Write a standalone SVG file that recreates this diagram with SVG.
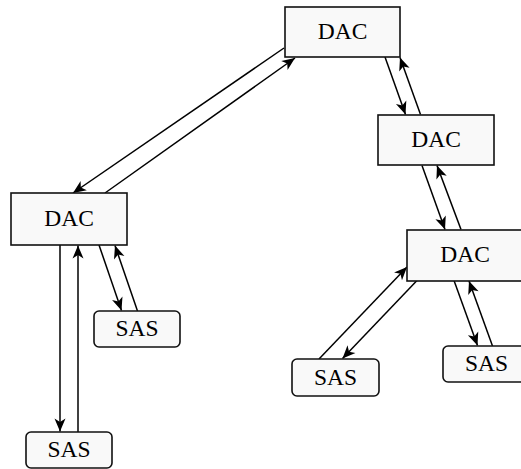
<svg xmlns="http://www.w3.org/2000/svg" width="521" height="469" viewBox="0 0 521 469">
<style>
.box{fill:#f9f9f9;stroke:#111;stroke-width:1.6}
.lbl{font-family:"Liberation Serif",Tinos,"Times New Roman",Times,serif;font-size:23.5px;fill:#000;text-anchor:middle}
.ln{stroke:#000;stroke-width:1.5;fill:none;marker-end:url(#ah)}
</style>
<defs>
<marker id="ah" markerUnits="userSpaceOnUse" viewBox="-14 -7 15 14" refX="0" refY="0" markerWidth="15" markerHeight="14" orient="auto">
<path d="M0,0 L-13,-5.5 L-9.5,0 L-13,5.5 Z" fill="#000"/>
</marker>
</defs>
<rect width="521" height="469" fill="#fff"/>
<g id="connectors">
<line class="ln" x1="284" y1="48" x2="73" y2="193"/>
<line class="ln" x1="105" y1="193" x2="295" y2="58"/>
<line class="ln" x1="385" y1="57" x2="405.5" y2="114.5"/>
<line class="ln" x1="420.5" y1="114.5" x2="400" y2="57.5"/>
<line class="ln" x1="422" y1="165.5" x2="445" y2="229.5"/>
<line class="ln" x1="461" y1="229.5" x2="437" y2="165.5"/>
<line class="ln" x1="319" y1="359" x2="407" y2="267"/>
<line class="ln" x1="417" y1="280.5" x2="342.5" y2="358.5"/>
<line class="ln" x1="454" y1="280.5" x2="477.5" y2="345.5"/>
<line class="ln" x1="492.5" y1="346" x2="469" y2="281"/>
<line class="ln" x1="99" y1="245" x2="121.5" y2="310.5"/>
<line class="ln" x1="137.5" y1="311" x2="115" y2="245.5"/>
<line class="ln" x1="60" y1="245" x2="60" y2="431.5"/>
<line class="ln" x1="78" y1="432" x2="78" y2="245.5"/>
</g>
<g id="dac1"><rect class="box" x="285" y="7" width="115" height="50"/><text class="lbl" x="342.5" y="39">DAC</text></g>
<g id="dac2"><rect class="box" x="378" y="115" width="116" height="50"/><text class="lbl" x="436" y="147">DAC</text></g>
<g id="dac3"><rect class="box" x="407" y="230" width="116" height="51"/><text class="lbl" x="465" y="262">DAC</text></g>
<g id="dac4"><rect class="box" x="11" y="193" width="116" height="52"/><text class="lbl" x="69" y="226">DAC</text></g>
<g id="sas1"><rect class="box" x="94" y="311" width="86" height="36" rx="5"/><text class="lbl" x="137" y="336">SAS</text></g>
<g id="sas2"><rect class="box" x="26" y="432" width="86" height="36" rx="5"/><text class="lbl" x="69" y="457">SAS</text></g>
<g id="sas3"><rect class="box" x="292" y="359" width="87" height="37" rx="5"/><text class="lbl" x="335.5" y="385">SAS</text></g>
<g id="sas4"><rect class="box" x="443" y="346" width="87" height="36" rx="5"/><text class="lbl" x="486.5" y="371">SAS</text></g>
</svg>
